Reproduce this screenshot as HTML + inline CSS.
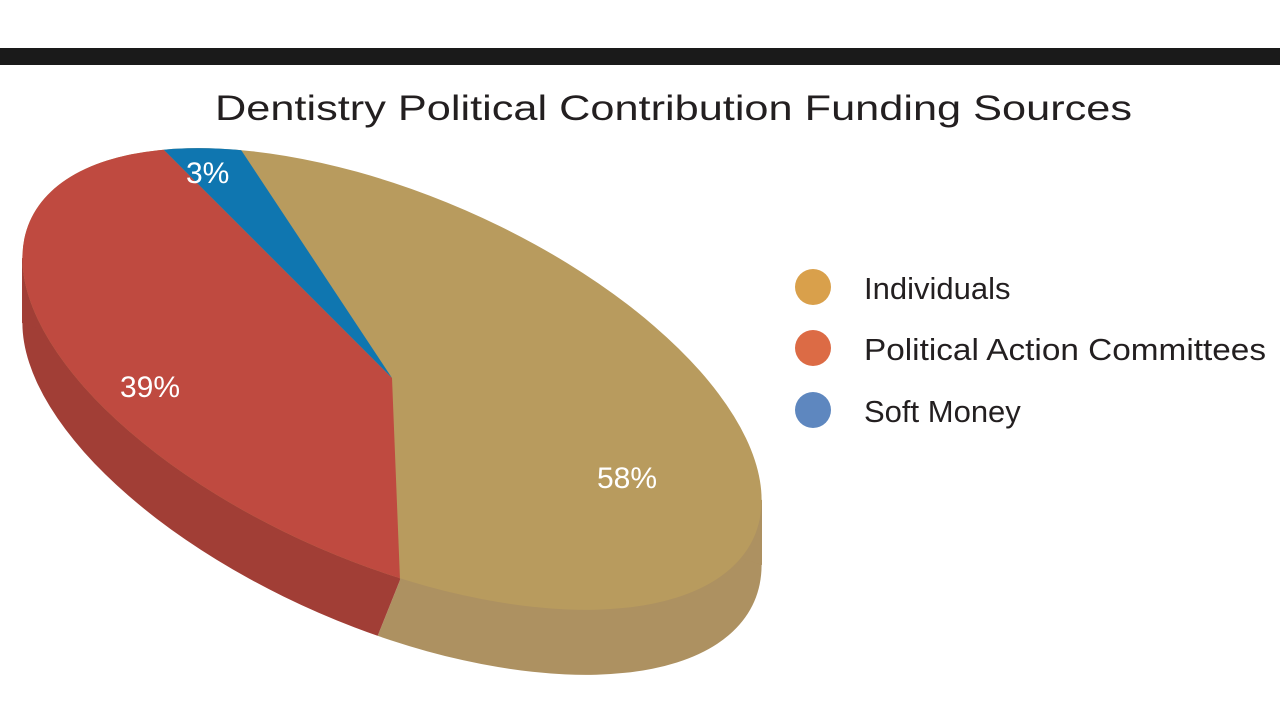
<!DOCTYPE html>
<html><head><meta charset="utf-8"><style>
html,body{margin:0;padding:0;background:#fff;width:1280px;height:720px;overflow:hidden}
svg{display:block}
</style></head><body>
<svg width="1280" height="720" viewBox="0 0 1280 720" xmlns="http://www.w3.org/2000/svg" font-family="Liberation Sans, sans-serif">
<rect x="0" y="48" width="1280" height="17" fill="#1a1a1a"/>
<text x="215" y="120" font-size="35" fill="#231f20" textLength="917" lengthAdjust="spacingAndGlyphs">Dentistry Political Contribution Funding Sources</text>
<defs>
<clipPath id="top"><ellipse cx="392" cy="379" rx="395" ry="184" transform="rotate(23.5 392 379)"/></clipPath>
<clipPath id="redside"><polygon points="0,0 392,378 400,580 372,650 372,720 0,720"/></clipPath>
<clipPath id="goldside"><polygon points="392,378 400,580 372,650 372,720 1280,720 1280,0 392,0"/></clipPath>
</defs>
<g clip-path="url(#goldside)" fill="#ad9161">
<ellipse cx="392" cy="444" rx="395" ry="184" transform="rotate(23.5 392 444)"/>
<polygon points="22,258 762,500 762,565 22,323"/>
</g>
<g clip-path="url(#redside)" fill="#a13e36">
<ellipse cx="392" cy="444" rx="395" ry="184" transform="rotate(23.5 392 444)"/>
<polygon points="22,258 762,500 762,565 22,323"/>
</g>
<g clip-path="url(#top)">
<rect x="0" y="100" width="900" height="600" fill="#b89b5e"/>
<polygon points="392,378 400,580 380,720 0,720 0,100 114,100" fill="#bf4a40"/>
<polygon points="392,378 114,100 208,100" fill="#0f76b0"/>
</g>
<g fill="#fff" font-size="30">
<text x="186" y="183">3%</text>
<text x="120" y="397">39%</text>
<text x="597" y="488">58%</text>
</g>
<circle cx="813" cy="287" r="18" fill="#d9a04b"/>
<circle cx="813" cy="348" r="18" fill="#dc6b45"/>
<circle cx="813" cy="410" r="18" fill="#5e87bf"/>
<g font-size="31" fill="#231f20">
<text x="864" y="299">Individuals</text>
<text x="864" y="360" textLength="402" lengthAdjust="spacingAndGlyphs">Political Action Committees</text>
<text x="864" y="422">Soft Money</text>
</g>
</svg>
</body></html>
